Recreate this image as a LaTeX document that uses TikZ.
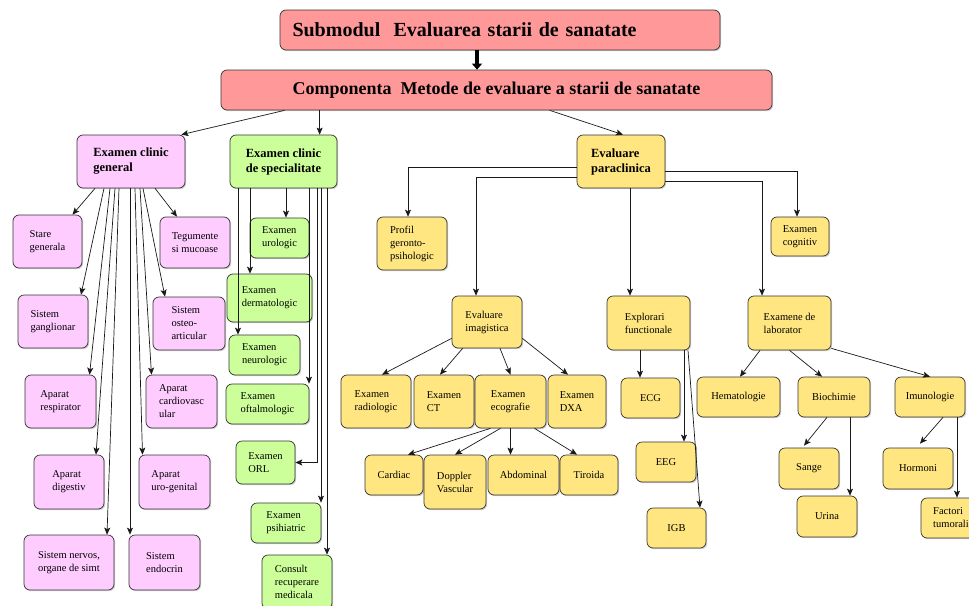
\documentclass[tikz,border=0pt]{standalone}
\usepackage{fontspec}
\setmainfont{Liberation Serif}
\usetikzlibrary{arrows.meta, calc, shadows}
\definecolor{rosu}{RGB}{255,153,153}
\definecolor{roz}{RGB}{255,204,255}
\definecolor{verde}{RGB}{204,255,153}
\definecolor{galben}{RGB}{255,230,128}
\tikzstyle{box} = [rectangle, rounded corners=6pt, draw=black!80, line width=0.7pt, align=left, inner sep=2pt, font=\fontsize{10.5}{13}\selectfont, drop shadow={shadow xshift=1.2pt, shadow yshift=-1.2pt, opacity=0.3, fill=black!60}]
\tikzstyle{titlu} = [box, fill=rosu, font=\bfseries\fontsize{18}{22}\selectfont]
\tikzstyle{grupa} = [box, font=\bfseries\fontsize{12.5}{15}\selectfont]
\tikzstyle{pink} = [box, fill=roz]
\tikzstyle{green} = [box, fill=verde]
\tikzstyle{yellow} = [box, fill=galben]
\tikzstyle{arrow} = [line width=0.7pt, draw=black!90, -{Stealth[length=7pt,width=6pt,inset=1.5pt]}]
\tikzstyle{fat} = [line width=4pt, -{Triangle[length=6pt,width=10pt]}]
\tikzset{sz/.style 2 args={minimum width=#1pt, minimum height=#2pt}}

\begin{document}
\begin{tikzpicture}[x=1pt, y=-1pt]
\useasboundingbox (0,0) rectangle (969,605);
\clip (0,0) rectangle (969,605);

% top
\node (sub) [titlu, sz={440}{40}, text width=415pt, inner xsep=12.5pt, font=\bfseries\fontsize{20}{24}\selectfont] at (500,30) {Submodul\ \ Evaluarea starii de sanatate};
\node (comp) [titlu, sz={551}{40}] at (496.5,90) {Componenta\ \ Metode de evaluare a starii de sanatate};

\node (cg) [grupa, fill=roz, sz={108}{53}] at (131,161.5) {Examen clinic\\general};
\node (cs) [grupa, fill=verde, sz={107}{53}] at (283.5,161.5) {Examen clinic\\de specialitate};
\node (ep) [grupa, fill=galben, sz={88}{53}] at (621,161.5) {Evaluare\\paraclinica};

% examen clinic general
\node (sg) [pink, sz={69}{53}] at (47.5,241.5) {Stare\\generala};
\node (teg) [pink, sz={70}{51}] at (195,242.5) {Tegumente\\si mucoase};
\node (gang) [pink, sz={70}{53}] at (53,321.5) {Sistem\\ganglionar};
\node (osteo) [pink, sz={72}{53}] at (189,323.5) {Sistem\\osteo-\\articular};
\node (resp) [pink, sz={71}{53}] at (60.5,401.5) {Aparat\\respirator};
\node (cardio) [pink, sz={71}{53}] at (181.5,401.5) {Aparat\\cardiovasc\\ular};
\node (dig) [pink, sz={70}{54}] at (69,482) {Aparat\\digestiv};
\node (uro) [pink, sz={71}{54}] at (174.5,482) {Aparat\\uro-genital};
\node (nerv) [pink, sz={90}{55}] at (69,562.5) {Sistem nervos,\\organe de simt};
\node (endo) [pink, sz={71}{55}] at (164.5,562.5) {Sistem\\endocrin};

% examen clinic de specialitate
\node (ulog) [green, sz={59}{40}] at (279.5,238) {Examen\\urologic};
\node (derm) [green, sz={85}{48}] at (269.5,298) {Examen\\dermatologic};
\node (neur) [green, sz={71}{40}] at (264.5,355) {Examen\\neurologic};
\node (oft) [green, sz={83}{40}] at (267.5,404) {Examen\\oftalmologic};
\node (orl) [green, sz={59}{43}] at (265.5,462.5) {Examen\\ORL};
\node (psih) [green, sz={70}{40}] at (286,523) {Examen\\psihiatric};
\node (cons) [green, sz={70}{54}] at (297,582) {Consult\\recuperare\\medicala};

% evaluare paraclinica
\node (prof) [yellow, sz={70}{53}] at (412,243.5) {Profil\\geronto-\\psihologic};
\node (cog) [yellow, sz={58}{39}] at (800,236.5) {Examen\\cognitiv};
\node (imag) [yellow, sz={70}{52}] at (487,322) {Evaluare\\imagistica};
\node (expl) [yellow, sz={83}{54}] at (648.5,323) {Explorari\\functionale};
\node (lab) [yellow, sz={83}{54}] at (789.5,323) {Examene de\\laborator};

\node (rad) [yellow, sz={70}{53}] at (376,401.5) {Examen\\radiologic};
\node (ct) [yellow, sz={60}{53}] at (444,401.5) {Examen\\CT};
\node (eco) [yellow, sz={71}{53}] at (510.5,401.5) {Examen\\ecografie};
\node (dxa) [yellow, sz={58}{53}] at (577,401.5) {Examen\\DXA};

\node (card) [yellow, sz={58}{40}] at (394,475) {Cardiac};
\node (dop) [yellow, sz={62}{54}] at (455,482) {Doppler\\Vascular};
\node (abd) [yellow, sz={71}{40}] at (523.5,475) {Abdominal};
\node (tir) [yellow, sz={58}{40}] at (589,475) {Tiroida};

\node (ecg) [yellow, sz={59}{40}] at (650.5,398) {ECG};
\node (eeg) [yellow, sz={60}{40}] at (666,462) {EEG};
\node (igb) [yellow, sz={59}{40}] at (676.5,528) {IGB};

\node (hema) [yellow, sz={83}{40}] at (738.5,397) {Hematologie};
\node (bio) [yellow, sz={72}{40}] at (834,397) {Biochimie};
\node (imu) [yellow, sz={70}{40}] at (930,397) {Imunologie};
\node (sange) [yellow, sz={60}{41}] at (809,468.5) {Sange};
\node (urina) [yellow, sz={60}{41}] at (827,516.5) {Urina};
\node (horm) [yellow, sz={70}{41}] at (918,468.5) {Hormoni};
\node (fact) [yellow, sz={60}{40}] at (951,518) {Factori\\tumorali};

% connectors
\coordinate (t1) at ($(sub.south)+(-23,0)$);
\draw [fat] (t1) -- (t1 |- comp.north);
\coordinate (c2) at ($(comp.south west)+(99,0)$);
\draw [arrow] ($(comp.south west)+(64,0)$) -- ($(cg.north east)+(-4,0)$);
\draw [arrow] (c2) -- (c2 |- cs.north);
\draw [arrow] ($(comp.south west)+(329,0)$) -- ($(ep.north)+(2,0)$);

\draw [arrow] ($(cg.south)+(-36,0)$) -- ($(sg.north)+(25,0)$);
\draw [arrow] ($(cg.south)+(24,0)$) -- ($(teg.north)+(-18,0)$);
\draw [arrow] ($(cg.south)+(-27,0)$) -- ($(gang.north)+(28,0)$);
\draw [arrow] ($(cg.south)+(12,0)$) -- ($(osteo.north)+(-24,0)$);
\draw [arrow] ($(cg.south)+(-21,0)$) -- ($(resp.north)+(29,0)$);
\draw [arrow] ($(cg.south)+(9,0)$) -- ($(cardio.north)+(-30,0)$);
\draw [arrow] ($(cg.south)+(-16,0)$) -- ($(dig.north)+(27,0)$);
\draw [arrow] ($(cg.south)+(4,0)$) -- ($(uro.north)+(-32,0)$);
\draw [arrow] ($(cg.south)+(-12,0)$) -- ($(nerv.north)+(38,0)$);
\draw [arrow] ($(cg.south)+(-1,0)$) -- ($(endo.north)+(-34.5,0)$);

\coordinate (s1) at ($(cs.south)+(2.5,0)$);
\coordinate (s2) at ($(cs.south)+(-33.5,0)$);
\coordinate (s3) at ($(cs.south)+(-45.5,0)$);
\coordinate (s4) at ($(cs.south)+(25.5,0)$);
\coordinate (s5) at ($(cs.south)+(33.5,0)$);
\coordinate (s6) at ($(cs.south)+(37.5,0)$);
\coordinate (s7) at ($(cs.south)+(43.5,0)$);
\draw [arrow] (s1) -- (s1 |- ulog.north);
\draw [arrow] (s2) -- (s2 |- derm.north);
\draw [arrow] (s3) -- (s3 |- neur.north);
\draw [arrow] (s4) -- (s4 |- oft.north);
\draw [arrow] (s5) |- (orl.east);
\draw [arrow] (s6) -- (s6 |- psih.north);
\draw [arrow] (s7) -- (s7 |- cons.north);

\draw [arrow] ($(ep.west)+(0,5.5)$) -| ($(prof.north)+(-4,0)$);
\draw [arrow] ($(ep.west)+(0,15.5)$) -| ($(imag.north)+(-11,0)$);
\draw [arrow] ($(ep.east)+(0,9.5)$) -| ($(cog.north)+(-3,0)$);
\draw [arrow] ($(ep.east)+(0,19.5)$) -| ($(lab.north)+(-27.5,0)$);
\coordinate (e1) at ($(ep.south)+(9,0)$);
\draw [arrow] (e1) -- (e1 |- expl.north);

\draw [arrow] ($(imag.south west)+(0,-10)$) -- ($(rad.north)+(6,0)$);
\draw [arrow] ($(imag.south west)+(11,0)$) -- ($(ct.north)+(-4,0)$);
\draw [arrow] ($(imag.south)+(13,0)$) -- (eco.north);
\draw [arrow] ($(imag.south east)+(0,-10)$) -- ($(dxa.north)+(-9,0)$);

\draw [arrow] ($(eco.south)+(-20,0)$) -- ($(card.north)+(14,0)$);
\draw [arrow] ($(eco.south)+(-10,0)$) -- (dop.north);
\coordinate (e2) at (eco.south);
\draw [arrow] (e2) -- (e2 |- abd.north);
\draw [arrow] ($(eco.south)+(24,0)$) -- ($(tir.north)+(-12,0)$);

\coordinate (f1) at ($(expl.south)+(-8.5,0)$);
\coordinate (f2) at ($(expl.south)+(35.5,0)$);
\draw [arrow] (f1) -- (f1 |- ecg.north);
\draw [arrow] (f2) -- (f2 |- eeg.north);
\draw [arrow] ($(expl.south)+(39.5,0)$) -- ($(igb.north)+(23.5,0)$);

\draw [arrow] ($(lab.south)+(-29.5,0)$) -- ($(hema.north)+(1.5,0)$);
\draw [arrow] (lab.south) -- ($(bio.north)+(-12,0)$);
\draw [arrow] ($(lab.south east)+(0,-2)$) -- (imu.north);
\coordinate (b1) at ($(bio.south)+(16,0)$);
\draw [arrow] ($(bio.south)+(-7,0)$) -- ($(sange.north)+(-5,-2)$);
\draw [arrow] (b1) -- (b1 |- urina.north);
\coordinate (i1) at ($(imu.south)+(27,0)$);
\draw [arrow] ($(imu.south)+(13,0)$) -- ($(horm.north)+(2,-4)$);
\draw [arrow] (i1) -- (i1 |- fact.north);
\end{tikzpicture}
\end{document}
